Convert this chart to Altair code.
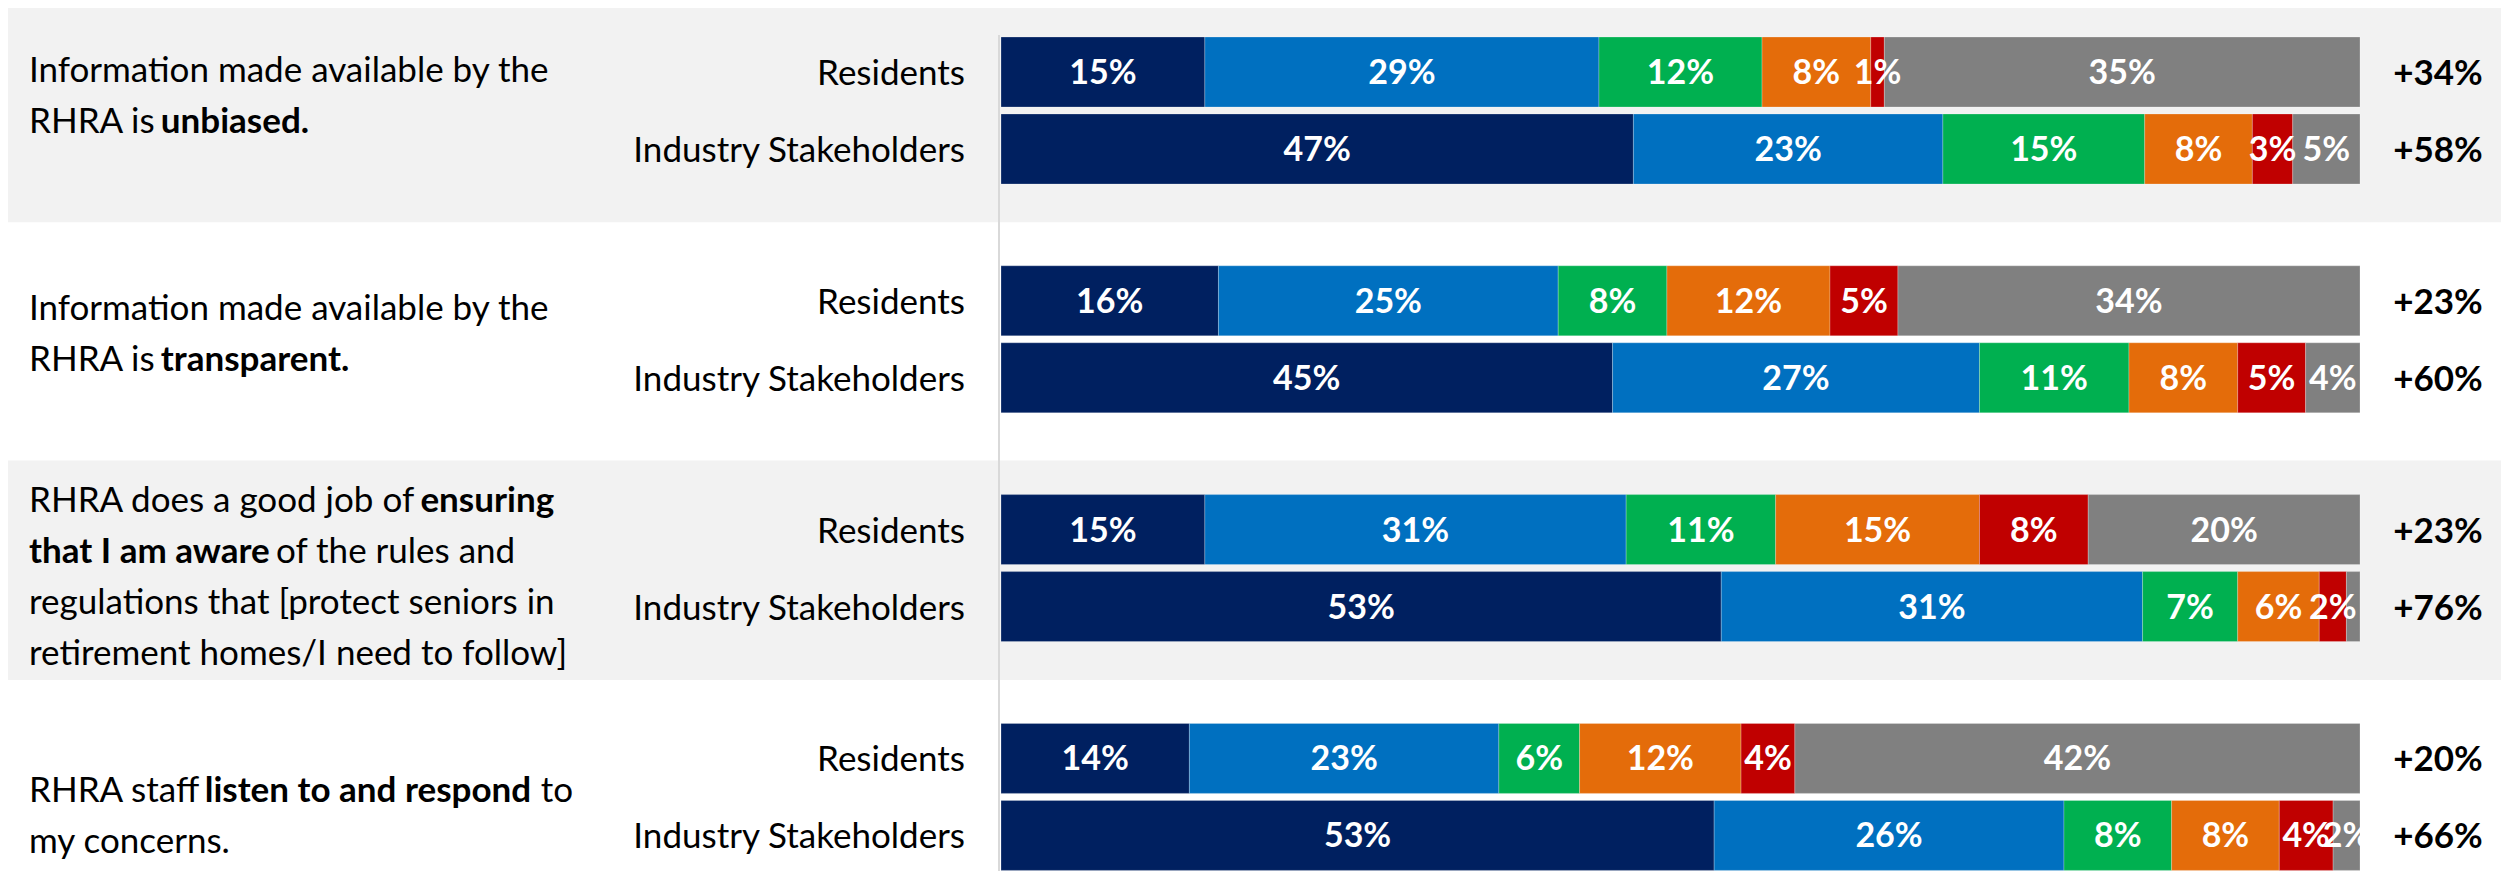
import altair as alt
import pandas as pd

# ---------------- data ----------------
statements = ["unbiased", "transparent", "aware", "listen"]
audiences = ["Residents", "Industry Stakeholders"]
categories = ["Strongly agree", "Somewhat agree", "Neither agree nor disagree",
              "Somewhat disagree", "Strongly disagree", "Don't know"]
colors = ["#002060", "#0070C0", "#00B050", "#E46C0A", "#C00000", "#808080"]

residents_values = [[15, 29, 12, 8, 1, 35],
                    [16, 25, 8, 12, 5, 34],
                    [15, 31, 11, 15, 8, 20],
                    [14, 23, 6, 12, 4, 42]]
industry_values = [[47, 23, 15, 8, 3, 5],
                   [45, 27, 11, 8, 5, 4],
                   [53, 31, 7, 6, 2, 1],
                   [53, 26, 8, 8, 4, 2]]
net_residents = ["+34%", "+23%", "+23%", "+20%"]
net_industry = ["+58%", "+60%", "+76%", "+66%"]
unlabeled = [("aware", "Industry Stakeholders", "Don't know")]
shaded = [True, False, True, False]

statement_lines = [
    [[("Information made available by the", False)],
     [("RHRA is ", False), ("unbiased.", True)]],
    [[("Information made available by the", False)],
     [("RHRA is ", False), ("transparent.", True)]],
    [[("RHRA does a good job of ", False), ("ensuring", True)],
     [("that I am aware", True), (" of the rules and", False)],
     [("regulations that [protect seniors in", False)],
     [("retirement homes/I need to follow]", False)]],
    [[("RHRA staff ", False), ("listen to and respond", True), (" to", False)],
     [("my concerns.", False)]],
]

# ---------------- layout / style ----------------
W, H = 2493, 863
FONT = "Lato"
FS = 35
TEXT_X = 21
LINE_H = 51
text_shift = [-14, -4.5, 10, 20]
LABEL_DY = 2
SPACE_W = 8.5

CW = {'a': 0.479, 'b': 0.525, 'c': 0.423, 'd': 0.525, 'e': 0.498, 'f': 0.305,
      'g': 0.471, 'h': 0.525, 'i': 0.229, 'j': 0.239, 'k': 0.455, 'l': 0.229, 'm': 0.799,
      'n': 0.525, 'o': 0.527, 'p': 0.525, 'q': 0.525, 'r': 0.349, 's': 0.391, 't': 0.335,
      'u': 0.525, 'v': 0.452, 'w': 0.715, 'x': 0.433, 'y': 0.453, 'z': 0.395,
      '.': 0.252, '[': 0.305, ']': 0.305, '/': 0.386}
CAPS = {'R': 0.63, 'H': 0.72, 'A': 0.65, 'I': 0.27}
REG_OVERRIDE = {'o': 0.57, 'g': 0.52, 'd': 0.57, 'b': 0.57, 'j': 0.26}
BOLD_OVERRIDE = {'a': 0.50, 'w': 0.75, 'm': 0.83}


def text_w(s, bold):
    f = 1.09 if bold else 1.05
    over = BOLD_OVERRIDE if bold else REG_OVERRIDE
    w = 0.0
    for c in s:
        if c == ' ':
            w += SPACE_W
        elif c in CAPS:
            w += CAPS[c] * FS * (1.04 if bold else 1.0)
        elif c in over:
            w += over[c] * FS
        else:
            w += CW.get(c, 0.5) * FS * f
    return w


rows = []
for si, st in enumerate(statements):
    for aud, vals in (("Residents", residents_values[si]), ("Industry Stakeholders", industry_values[si])):
        for ci, cat in enumerate(categories):
            rows.append({"statement": st, "audience": aud, "category": cat, "ord": ci,
                         "value": vals[ci],
                         "show": (st, aud, cat) not in unlabeled})
df = pd.DataFrame(rows)

net_df = pd.DataFrame(
    [{"statement": st, "audience": "Residents", "net": net_residents[i]} for i, st in enumerate(statements)] +
    [{"statement": st, "audience": "Industry Stakeholders", "net": net_industry[i]} for i, st in enumerate(statements)])
aud_df = pd.DataFrame([{"statement": st, "audience": a} for st in statements for a in audiences])
band_df = pd.DataFrame([{"statement": st} for i, st in enumerate(statements) if shaded[i]])

yscale = alt.Scale(domain=statements, range=[-5, 900.7], paddingInner=0.0415, paddingOuter=0)
yoff_scale = alt.Scale(domain=audiences, range=[34, 181], paddingInner=0.0909, paddingOuter=0)
xscale = alt.Scale(domain=[0, 1], range=[993, 2352])

Y = alt.Y("statement:N", scale=yscale, axis=None)
YO = alt.YOffset("audience:N", scale=yoff_scale)

bands = alt.Chart(band_df).mark_rect(color="#F2F2F2").encode(
    y=Y, x=alt.value(0), x2=alt.value(W))

rule = alt.Chart(pd.DataFrame({"v": [0]})).mark_rule(color="#D9D9D9", strokeWidth=2, xOffset=-2).encode(
    x=alt.X("v:Q", scale=xscale, axis=None), y=alt.value(27), y2=alt.value(H))

stacked = alt.Chart(df).transform_stack(
    stack="value", as_=["x0", "x1"], groupby=["statement", "audience"],
    sort=[alt.SortField("ord", order="ascending")], offset="normalize"
).transform_calculate(mid="(datum.x0 + datum.x1) / 2", label="datum.value + '%'")

bars = stacked.mark_bar(stroke="#ffffff", strokeWidth=0.4, strokeOpacity=0.6).encode(
    x=alt.X("x0:Q", scale=xscale, axis=None), x2="x1:Q", y=Y, yOffset=YO,
    color=alt.Color("category:N", scale=alt.Scale(domain=categories, range=colors), legend=None))

bar_labels = stacked.transform_filter("datum.show").mark_text(
    color="white", font=FONT, fontSize=34, fontWeight="bold", baseline="middle", align="center",
    dy=LABEL_DY
).encode(x=alt.X("mid:Q", scale=xscale, axis=None), y=Y, yOffset=YO, text="label:N")

aud_labels = alt.Chart(aud_df).mark_text(
    color="black", font=FONT, fontSize=FS, align="right", baseline="middle", dy=LABEL_DY
).encode(x=alt.value(957), y=Y, yOffset=YO, text="audience:N")

net_labels = alt.Chart(net_df).mark_text(
    color="black", font=FONT, fontSize=FS, fontWeight="bold", align="center", baseline="middle",
    dy=LABEL_DY
).encode(x=alt.value(2430), y=Y, yOffset=YO, text="net:N")

text_layers = []
for si, st in enumerate(statements):
    lines = statement_lines[si]
    n = len(lines)
    for li, segs in enumerate(lines):
        dy = -2.5 + text_shift[si] + (li - (n - 1) / 2) * LINE_H
        xoff = TEXT_X
        for seg, bold in segs:
            lead = len(seg) - len(seg.lstrip(' '))
            xoff += lead * SPACE_W
            core = seg.strip(' ')
            text_layers.append(
                alt.Chart(pd.DataFrame([{"statement": st, "t": core}])).mark_text(
                    color="black", font=FONT, fontSize=FS, fontWeight="bold" if bold else "normal",
                    align="left", baseline="middle", dy=dy
                ).encode(x=alt.value(xoff), y=Y, text="t:N"))
            xoff += text_w(core, bold) + (len(seg) - lead - len(core)) * SPACE_W

chart = alt.layer(bands, rule, bars, bar_labels, aud_labels, net_labels, *text_layers).properties(
    width=W, height=H, padding=0, autosize=alt.AutoSizeParams(type="none")
).configure_view(stroke=None)

chart.save("out.html", embed_options={"renderer": "svg", "actions": False})
